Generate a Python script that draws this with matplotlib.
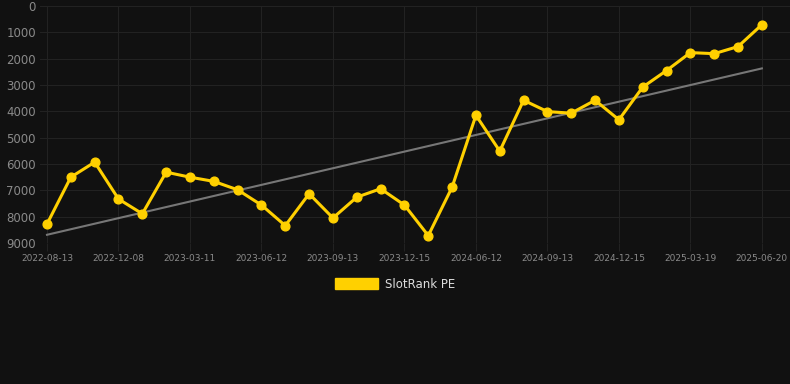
#!/usr/bin/env python
import numpy as np
import matplotlib
matplotlib.use("Agg")
import matplotlib.pyplot as plt
from matplotlib.patches import Patch

# data (category axis, every 3rd date labelled)
dates = ["2022-08-13", "2022-09-20", "2022-10-29", "2022-12-08", "2023-01-10",
         "2023-02-08", "2023-03-11", "2023-04-12", "2023-05-12", "2023-06-12",
         "2023-07-13", "2023-08-13", "2023-09-13", "2023-10-14", "2023-11-14",
         "2023-12-15", "2024-02-13", "2024-04-13", "2024-06-12", "2024-07-13",
         "2024-08-13", "2024-09-13", "2024-10-14", "2024-11-14", "2024-12-15",
         "2025-01-15", "2025-02-15", "2025-03-19", "2025-04-19", "2025-05-20",
         "2025-06-20"]
ranks = [8280, 6500, 5930, 7330, 7890, 6310, 6500, 6660, 6980, 7560,
         8340, 7130, 8050, 7260, 6940, 7560, 8720, 6880, 4150, 5510,
         3580, 4010, 4070, 3580, 4320, 3080, 2450, 1770, 1810, 1540,
         710]
series_name = "SlotRank PE"

bg = "#111111"
yellow = "#ffd000"

fig = plt.figure(figsize=(7.9, 3.84), dpi=100, facecolor=bg)
ax = fig.add_axes([40/790, 1 - 243/384, 750/790, 237/384], facecolor=bg)

x = np.arange(len(ranks))

# trend line (least squares)
k, b = np.polyfit(x, ranks, 1)
ax.plot(x, k*x + b, color="#777777", lw=1.5, zorder=2)

ax.plot(x, ranks, color=yellow, lw=2.2, marker="o", ms=6.3, zorder=3)

ax.set_ylim(9000, 0)
ax.set_xlim(-0.294, 31.18)
ax.set_yticks(range(0, 9001, 1000))
ax.set_xticks(x[::3])
ax.set_xticklabels(dates[::3])

ax.grid(True, color="#222222", lw=0.8)
for s in ax.spines.values():
    s.set_visible(False)
ax.tick_params(axis="y", colors="#8a8a8a", labelsize=8.5, length=0, pad=3)
ax.tick_params(axis="x", colors="#8a8a8a", labelsize=6.5, length=6,
               color="#222222", pad=2)

fig.legend(handles=[Patch(color=yellow)], labels=[series_name],
           loc="center", bbox_to_anchor=(0.5, 1 - 284/384), frameon=False,
           labelcolor="#dddddd", fontsize=8.5, handlelength=3.6,
           handleheight=1.1, handletextpad=0.6)

fig.savefig("out.png", dpi=100, facecolor=bg)
